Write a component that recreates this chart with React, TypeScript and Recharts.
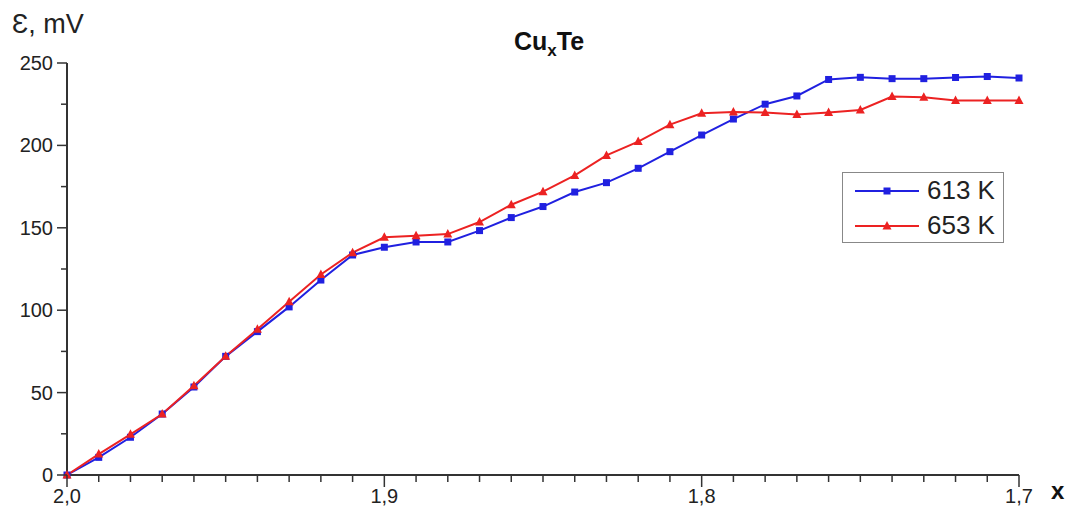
import { LineChart, Line, XAxis, YAxis } from 'recharts'

const X_VALUES = [
  2.0, 1.99, 1.98, 1.97, 1.96, 1.95, 1.94, 1.93, 1.92, 1.91,
  1.9, 1.89, 1.88, 1.87, 1.86, 1.85, 1.84, 1.83, 1.82, 1.81,
  1.8, 1.79, 1.78, 1.77, 1.76, 1.75, 1.74, 1.73, 1.72, 1.71, 1.7,
]

const E_613K = [
  0, 10.7, 22.9, 37, 53.4, 72, 87, 102, 118.3, 133.5,
  138.2, 141.4, 141.4, 148.3, 156.2, 162.9, 171.7, 177.4, 186.1, 196.2,
  206.3, 216, 225, 230, 240, 241.3, 240.5, 240.5, 241.2, 241.8, 240.9,
]

const E_653K = [
  0, 12.7, 24.7, 37, 54.2, 72, 88.4, 105.2, 121.7, 134.9,
  144.2, 145.2, 146.2, 153.5, 164, 171.9, 181.8, 193.9, 202.3, 212.6,
  219.5, 220.2, 220, 218.8, 220, 221.5, 229.6, 229.2, 227.2, 227.2, 227.2,
]

const X_MAJOR = [2.0, 1.9, 1.8, 1.7]
const X_LABELS = ['2,0', '1,9', '1,8', '1,7']
const Y_TICKS = [0, 25, 50, 75, 100, 125, 150, 175, 200, 225, 250]
const Y_LABELED = [0, 50, 100, 150, 200, 250]

const BLUE = '#2020e0'
const RED = '#ec2222'
const AXIS = '#333'
const FONT = '"Liberation Sans", Arial, sans-serif'

const data = X_VALUES.map((x, i) => ({ x, k613: E_613K[i], k653: E_653K[i] }))

function XTick(props: any) {
  const { x, y, payload } = props
  const idx = X_MAJOR.findIndex(v => Math.abs(v - payload.value) < 1e-6)
  const major = idx >= 0
  return (
    <g>
      <line x1={x} x2={x} y1={y} y2={y + (major ? 12 : 7)} stroke={AXIS} strokeWidth={1.5} />
      {major && (
        <text x={x} y={y + 28} textAnchor="middle" fontSize={20} fontFamily={FONT} fill="#222">
          {X_LABELS[idx]}
        </text>
      )}
    </g>
  )
}

function YTick(props: any) {
  const { x, y, payload } = props
  const major = Y_LABELED.includes(payload.value)
  return (
    <g>
      <line x1={x} x2={x - (major ? 10 : 6)} y1={y} y2={y} stroke={AXIS} strokeWidth={1.5} />
      {major && (
        <text x={x - 14} y={y + 7} textAnchor="end" fontSize={20} fontFamily={FONT} fill="#222">
          {payload.value}
        </text>
      )}
    </g>
  )
}

function Square(props: any) {
  const { cx, cy } = props
  if (cx == null || cy == null) return null
  return <rect x={cx - 3.5} y={cy - 3.5} width={7} height={7} fill={BLUE} />
}

function Triangle(props: any) {
  const { cx, cy } = props
  if (cx == null || cy == null) return null
  return <polygon points={`${cx},${cy - 5} ${cx - 4.5},${cy + 3.5} ${cx + 4.5},${cy + 3.5}`} fill={RED} />
}

function LegendRow({ color, label, marker }: { color: string; label: string; marker: 'square' | 'triangle' }) {
  return (
    <div style={{ display: 'flex', alignItems: 'center', height: 35 }}>
      <svg width={66} height={20} style={{ marginLeft: 12 }}>
        <line x1={0} x2={64} y1={10} y2={10} stroke={color} strokeWidth={2} />
        {marker === 'square'
          ? <rect x={28.5} y={6.5} width={7} height={7} fill={color} />
          : <polygon points="32,5 27.5,13.5 36.5,13.5" fill={color} />}
      </svg>
      <span style={{ fontFamily: FONT, fontSize: 26, color: '#222', marginLeft: 6 }}>{label}</span>
    </div>
  )
}

export default function App() {
  return (
    <div style={{ position: 'absolute', left: 0, top: 0, width: 1071, height: 514, background: '#fff' }}>
      <LineChart width={1071} height={514} data={data} margin={{ top: 63, right: 52, left: 0, bottom: 0 }}>
        <XAxis
          type="number"
          dataKey="x"
          domain={[1.7, 2.0]}
          reversed
          ticks={X_VALUES}
          interval={0}
          tickSize={0}
          tickMargin={0}
          tickLine={false}
          tick={<XTick />}
          height={39}
          axisLine={{ stroke: AXIS, strokeWidth: 2 }}
        />
        <YAxis
          type="number"
          domain={[0, 250]}
          ticks={Y_TICKS}
          interval={0}
          tickSize={0}
          tickMargin={0}
          tickLine={false}
          tick={<YTick />}
          width={67}
          axisLine={{ stroke: AXIS, strokeWidth: 2 }}
        />
        <Line
          type="linear"
          dataKey="k613"
          name="613 K"
          stroke={BLUE}
          strokeWidth={2}
          dot={<Square />}
          activeDot={false}
          isAnimationActive={false}
        />
        <Line
          type="linear"
          dataKey="k653"
          name="653 K"
          stroke={RED}
          strokeWidth={2}
          dot={<Triangle />}
          activeDot={false}
          isAnimationActive={false}
        />
      </LineChart>

      <div style={{ position: 'absolute', left: 12, top: 9, fontFamily: FONT, fontSize: 27, color: '#222' }}>
        Ɛ, mV
      </div>
      <div style={{ position: 'absolute', left: 0, width: 1098, top: 27, textAlign: 'center', fontFamily: FONT, fontSize: 25, fontWeight: 'bold', color: '#111' }}>
        Cu<sub style={{ fontSize: 17 }}>x</sub>Te
      </div>
      <div style={{ position: 'absolute', left: 1051, top: 477, fontFamily: FONT, fontSize: 24, fontWeight: 'bold', color: '#111' }}>
        x
      </div>
      <div style={{ position: 'absolute', left: 842, top: 172, width: 162, height: 71, border: '1px solid #888', boxSizing: 'border-box', background: '#fff' }}>
        <LegendRow color={BLUE} label="613 K" marker="square" />
        <LegendRow color={RED} label="653 K" marker="triangle" />
      </div>
    </div>
  )
}
